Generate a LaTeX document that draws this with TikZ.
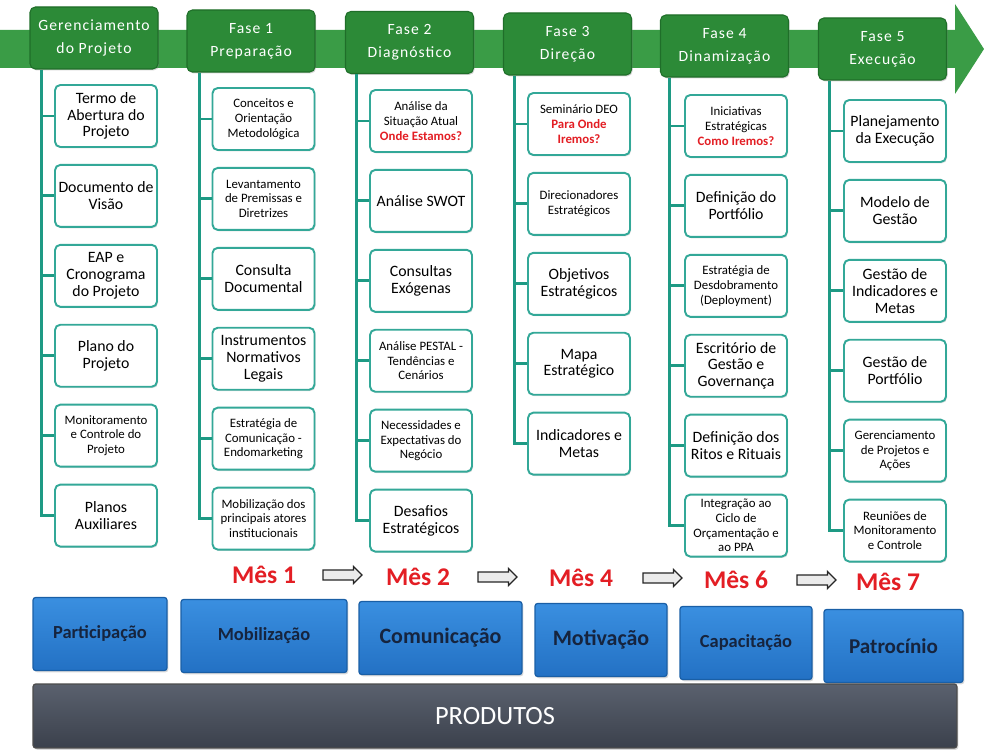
\documentclass[tikz,border=0pt]{standalone}
\usepackage{fontspec}
\setmainfont{Carlito}
\newfontfamily\fasefont[LetterSpace=7]{Carlito}
\usetikzlibrary{positioning, shapes.arrows, shadows}

\definecolor{bandgreen}{HTML}{3A9C46}
\definecolor{fasegreen}{HTML}{2C8A37}
\definecolor{fasedark}{HTML}{1F6E29}
\definecolor{linkteal}{HTML}{1E9A84}
\definecolor{boxteal}{HTML}{33A898}
\definecolor{mesred}{HTML}{E31E24}
\definecolor{pilartop}{HTML}{3A8FE0}
\definecolor{pilarbot}{HTML}{2371C4}
\definecolor{pilarline}{HTML}{1A5FA6}
\definecolor{pilartext}{HTML}{16243E}
\definecolor{prodtop}{HTML}{5A616E}
\definecolor{prodbot}{HTML}{3B414C}

\tikzset{
    fase/.style={fill=fasegreen, draw=fasedark, line width=0.6pt, rounded corners=3pt,
        minimum width=2.56cm, minimum height=1.24cm, text=white, align=center,
        font=\fasefont\fontsize{8.9}{13}\selectfont,
        drop shadow={shadow xshift=0.6pt, shadow yshift=-0.8pt, opacity=0.35}},
    item/.style={fill=white, draw=boxteal, line width=1.1pt, rounded corners=3pt,
        minimum width=2.04cm, minimum height=1.24cm, align=center, inner sep=1pt,
        drop shadow={shadow xshift=0.6pt, shadow yshift=-0.8pt, opacity=0.25}},
    bigtxt/.style={font=\fontsize{9}{9.6}\selectfont},
    smalltxt/.style={font=\fontsize{7.3}{8.4}\selectfont},
    trunk/.style={draw=linkteal, line width=1.7pt},
    mes/.style={text=mesred, font=\bfseries\fontsize{14.5}{14.5}\selectfont},
    seta/.style={single arrow, draw=black!85, fill=black!8, line width=0.7pt,
        minimum height=0.78cm, inner xsep=0pt, inner ysep=0.09cm,
        single arrow head extend=0.07cm},
    pilar/.style={top color=pilartop, bottom color=pilarbot, draw=pilarline,
        line width=0.7pt, rounded corners=1.5pt, minimum height=1.46cm,
        text=pilartext, drop shadow={shadow xshift=0.8pt, shadow yshift=-1pt, opacity=0.3}},
    produtos/.style={top color=prodtop, bottom color=prodbot, draw=black!70,
        line width=0.7pt, rounded corners=1.5pt, minimum width=18.48cm,
        minimum height=1.28cm, text=white, font=\fontsize{15}{15}\selectfont,
        drop shadow={shadow xshift=0.8pt, shadow yshift=-1pt, opacity=0.3}}
}

\newcommand{\red}[1]{{\color{mesred}\bfseries #1}}

\begin{document}
\begin{tikzpicture}[x=0.02cm, y=-0.02cm]
    \useasboundingbox (0, 0) rectangle (984, 756);

    \fill [bandgreen] (0, 30) -- (955, 30) -- (955, 4) -- (984, 49)
        -- (955, 94) -- (955, 68) -- (0, 68) -- cycle;

    % fases
    \node [fase] (h0) at (94, 38) {Gerenciamento\\do Projeto};
    \node [fase] (h1) at (251, 41) {Fase 1\\Preparação};
    \node [fase] (h2) at (409.5, 42.5) {Fase 2\\Diagnóstico};
    \node [fase] (h3) at (567.5, 44) {Fase 3\\Direção};
    \node [fase] (h4) at (724.5, 46) {Fase 4\\Dinamização};
    \node [fase] (h5) at (882.5, 49) {Fase 5\\Execução};

    % gerenciamento
    \node [item, bigtxt] (b01) at (106, 116) {Termo de\\Abertura do\\Projeto};
    \node [item, bigtxt, below=0.32cm of b01] (b02) {Documento de\\Visão};
    \node [item, bigtxt, below=0.32cm of b02] (b03) {EAP e\\Cronograma\\do Projeto};
    \node [item, bigtxt, below=0.32cm of b03] (b04) {Plano do\\Projeto};
    \node [item, smalltxt, below=0.32cm of b04] (b05) {Monitoramento\\e Controle do\\Projeto};
    \node [item, bigtxt, below=0.32cm of b05] (b06) {Planos\\Auxiliares};

    % fase 1
    \node [item, smalltxt] (b11) at (263.5, 119) {Conceitos e\\Orientação\\Metodológica};
    \node [item, smalltxt, below=0.32cm of b11] (b12) {Levantamento\\de Premissas e\\Diretrizes};
    \node [item, bigtxt, below=0.32cm of b12] (b13) {Consulta\\Documental};
    \node [item, bigtxt, below=0.32cm of b13] (b14) {Instrumentos\\Normativos\\Legais};
    \node [item, smalltxt, below=0.32cm of b14] (b15) {Estratégia de\\Comunicação -\\Endomarketing};
    \node [item, smalltxt, below=0.32cm of b15] (b16) {Mobilização dos\\principais atores\\institucionais};

    % fase 2
    \node [item, smalltxt] (b21) at (421, 121) {Análise da\\Situação Atual\\\red{Onde Estamos?}};
    \node [item, bigtxt, below=0.32cm of b21] (b22) {Análise SWOT};
    \node [item, bigtxt, below=0.32cm of b22] (b23) {Consultas\\Exógenas};
    \node [item, smalltxt, below=0.32cm of b23] (b24) {Análise PESTAL -\\Tendências e\\Cenários};
    \node [item, smalltxt, below=0.32cm of b24] (b25) {Necessidades e\\Expectativas do\\Negócio};
    \node [item, bigtxt, below=0.32cm of b25] (b26) {Desafios\\Estratégicos};

    % fase 3
    \node [item, smalltxt] (b31) at (579, 124) {Seminário DEO\\\red{Para Onde}\\\red{Iremos?}};
    \node [item, smalltxt, below=0.32cm of b31] (b32) {Direcionadores\\Estratégicos};
    \node [item, bigtxt, below=0.32cm of b32] (b33) {Objetivos\\Estratégicos};
    \node [item, bigtxt, below=0.32cm of b33] (b34) {Mapa\\Estratégico};
    \node [item, bigtxt, below=0.32cm of b34] (b35) {Indicadores e\\Metas};

    % fase 4
    \node [item, smalltxt] (b41) at (736, 126) {Iniciativas\\Estratégicas\\\red{Como Iremos?}};
    \node [item, bigtxt, below=0.32cm of b41] (b42) {Definição do\\Portfólio};
    \node [item, smalltxt, below=0.32cm of b42] (b43) {Estratégia de\\Desdobramento\\(Deployment)};
    \node [item, bigtxt, below=0.32cm of b43] (b44) {Escritório de\\Gestão e\\Governança};
    \node [item, bigtxt, below=0.32cm of b44] (b45) {Definição dos\\Ritos e Rituais};
    \node [item, smalltxt, below=0.32cm of b45] (b46) {Integração ao\\Ciclo de\\Orçamentação e\\ao PPA};

    % fase 5
    \node [item, bigtxt] (b51) at (895, 131) {Planejamento\\da Execução};
    \node [item, bigtxt, below=0.32cm of b51] (b52) {Modelo de\\Gestão};
    \node [item, bigtxt, below=0.32cm of b52] (b53) {Gestão de\\Indicadores e\\Metas};
    \node [item, bigtxt, below=0.32cm of b53] (b54) {Gestão de\\Portfólio};
    \node [item, smalltxt, below=0.32cm of b54] (b55) {Gerenciamento\\de Projetos  e\\Ações};
    \node [item, smalltxt, below=0.32cm of b55] (b56) {Reuniões de\\Monitoramento\\e Controle};

    \coordinate (t0) at ([xshift=0.24cm]h0.south west);
    \coordinate (t1) at ([xshift=0.26cm]h1.south west);
    \coordinate (t2) at ([xshift=0.24cm]h2.south west);
    \coordinate (t3) at ([xshift=0.24cm]h3.south west);
    \coordinate (t4) at ([xshift=0.2cm]h4.south west);
    \coordinate (t5) at ([xshift=0.24cm]h5.south west);

    \draw [trunk] (t0) |- (b06) (t0 |- b01) -- (b01) (t0 |- b02) -- (b02)
        (t0 |- b03) -- (b03) (t0 |- b04) -- (b04) (t0 |- b05) -- (b05);
    \draw [trunk] (t1) |- (b16) (t1 |- b11) -- (b11) (t1 |- b12) -- (b12)
        (t1 |- b13) -- (b13) (t1 |- b14) -- (b14) (t1 |- b15) -- (b15);
    \draw [trunk] (t2) |- (b26) (t2 |- b21) -- (b21) (t2 |- b22) -- (b22)
        (t2 |- b23) -- (b23) (t2 |- b24) -- (b24) (t2 |- b25) -- (b25);
    \draw [trunk] (t3) |- (b35) (t3 |- b31) -- (b31) (t3 |- b32) -- (b32)
        (t3 |- b33) -- (b33) (t3 |- b34) -- (b34);
    \draw [trunk] (t4) |- (b46) (t4 |- b41) -- (b41) (t4 |- b42) -- (b42)
        (t4 |- b43) -- (b43) (t4 |- b44) -- (b44) (t4 |- b45) -- (b45);
    \draw [trunk] (t5) |- (b56) (t5 |- b51) -- (b51) (t5 |- b52) -- (b52)
        (t5 |- b53) -- (b53) (t5 |- b54) -- (b54) (t5 |- b55) -- (b55);

    % meses
    \node [mes] (m1) at (264, 575) {Mês 1};
    \node [mes] (m2) at (418, 577) {Mês 2};
    \node [mes] (m4) at (581, 578) {Mês 4};
    \node [mes] (m6) at (736, 580) {Mês 6};
    \node [mes] (m7) at (888, 582) {Mês 7};
    \node [seta] (s1) at (340, 575) {};
    \node [seta] (s2) at (495, 577) {};
    \node [seta] (s3) at (660, 578) {};
    \node [seta] (s4) at (814, 580) {};

    % pilares
    \node [pilar, minimum width=2.68cm, font=\bfseries\fontsize{10.5}{10.5}\selectfont] (p1) at (100, 634) {Participação};
    \node [pilar, minimum width=3.32cm, font=\bfseries\fontsize{10.5}{10.5}\selectfont] (p2) at (264, 636) {Mobilização};
    \node [pilar, minimum width=3.26cm, font=\bfseries\fontsize{12.5}{12.5}\selectfont] (p3) at (440.5, 638) {Comunicação};
    \node [pilar, minimum width=2.64cm, font=\bfseries\fontsize{12.5}{12.5}\selectfont] (p4) at (601, 640) {Motivação};
    \node [pilar, minimum width=2.64cm, font=\bfseries\fontsize{10.5}{10.5}\selectfont] (p5) at (746, 643) {Capacitação};
    \node [pilar, minimum width=2.78cm, font=\bfseries\fontsize{12}{12}\selectfont] (p6) at (893.5, 646) {Patrocínio};

    \node [produtos] (prod) at (495, 716) {PRODUTOS};
\end{tikzpicture}
\end{document}
